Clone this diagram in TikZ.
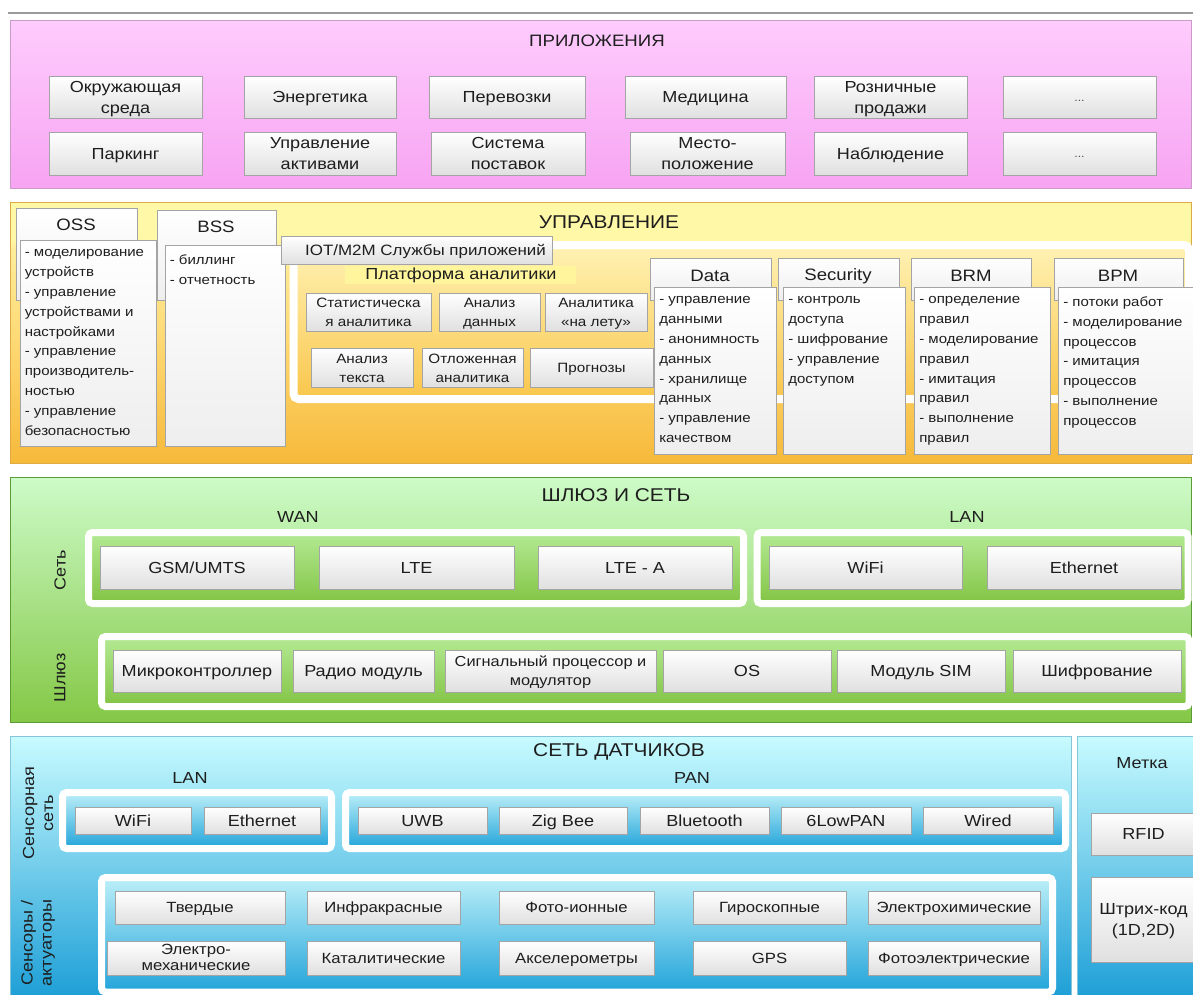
\documentclass[tikz,border=0pt]{standalone}
\usepackage{fontspec}
\setmainfont{Liberation Sans}[FakeStretch=1.13]
\usetikzlibrary{shadows}

\definecolor{txt}{HTML}{1E1E1E}
\definecolor{boxline}{HTML}{A4A4A4}
\definecolor{boxbot}{HTML}{E0E0E0}
\definecolor{listbot}{HTML}{EEEEEE}
\definecolor{topline}{HTML}{9A9A9A}
\definecolor{pinktop}{HTML}{FECCFD}
\definecolor{pinkbot}{HTML}{F7A4F2}
\definecolor{pinkline}{HTML}{C99BC6}
\definecolor{ylwtop}{HTML}{FFF8A6}
\definecolor{ylwband}{HTML}{FFEC9A}
\definecolor{ylwmid}{HTML}{FFDB78}
\definecolor{ylwbot}{HTML}{F6B93A}
\definecolor{ylwline}{HTML}{DDAA44}
\definecolor{anltop}{HTML}{FFF2B4}
\definecolor{anlbot}{HTML}{F9C64C}
\definecolor{hilite}{HTML}{FFF59C}
\definecolor{grntop}{HTML}{CDFBC8}
\definecolor{grnbot}{HTML}{84C846}
\definecolor{grnline}{HTML}{5C9C36}
\definecolor{grnintop}{HTML}{B4EA94}
\definecolor{grninbot}{HTML}{82C444}
\definecolor{bluetop}{HTML}{C8FBFF}
\definecolor{bluebot}{HTML}{1C9ED6}
\definecolor{blueline}{HTML}{86C4DA}
\definecolor{blueintop}{HTML}{BCEFF8}
\definecolor{blueinbot}{HTML}{22A4DA}

% management layer: pale band on top, warm gradient below
\pgfdeclareverticalshading{ylwsec}{100bp}{color(0bp)=(ylwbot); color(25bp)=(ylwbot);
  color(50bp)=(ylwmid); color(66bp)=(ylwband); color(68bp)=(ylwtop);
  color(75bp)=(ylwtop); color(100bp)=(ylwtop)}

% invisible rule that keeps caps and lower case optically centred in a box
\newcommand\cstrut{\rule[-0.28em]{0pt}{1.3em}}
% box from its corners: [options]{name}{x1}{y1}{x2}{y2}{text}
\newcommand\bx[7][]{\node[box,minimum width={(#5-#3)*1pt},minimum height={(#6-#4)*1pt},#1]
  (#2) at ({(#3+#5)/2},{(#4+#6)/2}) {\cstrut#7\cstrut};}
% white rounded frame with a gradient inside
\newcommand\frm[6]{\draw[white,line width=7pt,rounded corners=4pt,top color=#5,bottom color=#6]
  (#1,#2) rectangle (#3,#4);}

\begin{document}
\begin{tikzpicture}[x=1pt,y=-1pt,
  box/.style={draw=boxline,line width=0.8pt,top color=white,bottom color=boxbot,
    inner sep=0pt,align=center,text=txt,font=\fontsize{16}{21}\selectfont,
    drop shadow={opacity=0.2,shadow xshift=1pt,shadow yshift=-1.2pt}},
  abox/.style={font=\fontsize{13.5}{19}\selectfont},
  sbox/.style={font=\fontsize{14.8}{18}\selectfont},
  dots/.style={font=\fontsize{11}{13}\selectfont,text=black!70},
  tab/.style={top color=white,bottom color=listbot},
  listbox/.style={top color=white,bottom color=listbot},
  listtext/.style={anchor=north west,align=left,inner sep=0pt,text=txt,
    font=\fontsize{13.3}{19.8}\selectfont},
  sectitle/.style={text=txt,inner sep=0pt,font=\fontsize{18.5}{22}\selectfont},
  tabtitle/.style={text=txt,inner sep=0pt,font=\fontsize{16.5}{20}\selectfont},
  lbl/.style={text=txt,inner sep=0pt,font=\fontsize{16}{19}\selectfont},
  sidelbl/.style={text=txt,inner sep=0pt,rotate=90,align=center,font=\fontsize{16}{19}\selectfont}]

\useasboundingbox (0,0) rectangle (1193,994);
\clip (0,0) rectangle (1193,994);
\fill[white] (0,0) rectangle (1193,994);
\draw[topline,line width=1.2pt] (8,13) -- (1193,13);

% ---------------- applications ----------------
\draw[pinkline,line width=1pt,top color=pinktop,bottom color=pinkbot] (10,20) rectangle (1191,188);
\node[sectitle,font=\fontsize{16.5}{20}\selectfont] (tApp) at (597,41) {ПРИЛОЖЕНИЯ};
\bx{a1}{49}{76}{202}{118}{Окружающая\\среда}
\bx{a2}{244}{76}{396}{118}{Энергетика}
\bx{a3}{429}{76}{585}{118}{Перевозки}
\bx{a4}{625}{76}{786}{118}{Медицина}
\bx{a5}{814}{76}{967}{118}{Розничные\\продажи}
\bx[dots]{a6}{1003}{76}{1156}{118}{...}
\bx{b1}{49}{132}{202}{175}{Паркинг}
\bx{b2}{244}{132}{396}{175}{Управление\\активами}
\bx{b3}{431}{132}{585}{175}{Система\\поставок}
\bx{b4}{630}{132}{785}{175}{Место-\\положение}
\bx{b5}{814}{132}{967}{175}{Наблюдение}
\bx[dots]{b6}{1003}{132}{1156}{175}{...}

% ---------------- management ----------------
\draw[ylwline,line width=1pt,shading=ylwsec] (10,202) rectangle (1191,463);
\node[sectitle] (tMgmt) at (609,222) {УПРАВЛЕНИЕ};
\draw[white,line width=8pt,rounded corners=5pt,top color=anltop,bottom color=anlbot]
  (293.5,245) rectangle (1189,399);

\bx[tab]{ossT}{16}{208}{137}{300}{}
\node[tabtitle] at (76,225) {OSS};
\bx[listbox]{ossL}{20}{240}{156}{446}{}
\node[listtext] at ([shift={(5,10)}]ossL.north west) {- моделирование\\устройств\\- управление\\устройствами и\\настройками\\- управление\\производитель-\\ностью\\- управление\\безопасностью};

\bx[tab]{bssT}{157}{210}{276}{300}{}
\node[tabtitle] at (216,227) {BSS};
\bx[listbox]{bssL}{165}{245}{285}{446}{}
\node[listtext] at ([shift={(5,10)}]bssL.north west) {- биллинг\\- отчетность};

\bx[font=\fontsize{15}{19}\selectfont]{iot}{281}{236}{552}{264}{\hspace{18pt}IOT/M2M Службы приложений}
\fill[hilite] (345,266) rectangle (576,284);
\node[lbl] (plat) at (461,275) {Платформа аналитики};
\bx[abox]{s1}{306}{293}{431}{331}{Статистическа\\я аналитика}
\bx[abox]{s2}{439}{293}{540}{331}{Анализ\\данных}
\bx[abox]{s3}{545}{293}{647}{331}{Аналитика\\«на лету»}
\bx[abox]{s4}{311}{348}{413}{387}{Анализ\\текста}
\bx[abox]{s5}{422}{348}{523}{387}{Отложенная\\аналитика}
\bx[abox]{s6}{530}{348}{653}{387}{Прогнозы}

\bx[tab]{dataT}{650}{258}{771}{300}{}
\node[tabtitle] at (710,276) {Data};
\bx[listbox]{dataL}{654}{287}{776}{454}{}
\node[listtext] at ([shift={(5.5,10)}]dataL.north west) {- управление\\данными\\- анонимность\\данных\\- хранилище\\данных\\- управление\\качеством};

\bx[tab]{secT}{778}{258}{899}{300}{}
\node[tabtitle] at (838,276) {Security};
\bx[listbox]{secL}{783}{287}{905}{454}{}
\node[listtext] at ([shift={(5.5,10)}]secL.north west) {- контроль\\доступа\\- шифрование\\- управление\\доступом};

\bx[tab]{brmT}{911}{258}{1031}{300}{}
\node[tabtitle] at (971,276) {BRM};
\bx[listbox]{brmL}{914}{287}{1050}{454}{}
\node[listtext] at ([shift={(5.5,10)}]brmL.north west) {- определение\\правил\\- моделирование\\правил\\- имитация\\правил\\- выполнение\\правил};

\bx[tab]{bpmT}{1054}{258}{1183}{300}{}
\node[tabtitle] at (1118,276) {BPM};
\bx[listbox]{bpmL}{1058}{287}{1197}{454}{}
\node[listtext] at ([shift={(5.5,10)}]bpmL.north west) {- потоки работ\\- моделирование\\процессов\\- имитация\\процессов\\- выполнение\\процессов};

% ---------------- gateway and network ----------------
\draw[grnline,line width=1pt,top color=grntop,bottom color=grnbot] (10,477) rectangle (1191,722);
\node[sectitle] (tGw) at (616,495) {ШЛЮЗ И СЕТЬ};
\node[lbl] (wan) at (298,517) {WAN};
\node[lbl] (lan) at (967,517) {LAN};
\frm{88.5}{532.5}{743.5}{603.5}{grnintop}{grninbot}
\frm{757}{532.5}{1188}{603.5}{grnintop}{grninbot}
\frm{101.5}{636.5}{1189}{706.5}{grnintop}{grninbot}
\node[sidelbl] (net) at (60,570) {Сеть};
\node[sidelbl] (gw) at (60,678) {Шлюз};
\bx{n1}{100}{546}{294}{589}{GSM/UMTS}
\bx{n2}{319}{546}{514}{589}{LTE}
\bx{n3}{538}{546}{732}{589}{LTE - A}
\bx{n4}{769}{546}{962}{589}{WiFi}
\bx{n5}{987}{546}{1181}{589}{Ethernet}
\bx{g1}{113}{650}{281}{692}{Микроконтроллер}
\bx{g2}{293}{650}{434}{692}{Радио модуль}
\bx[font=\fontsize{14.5}{19}\selectfont]{g3}{445}{650}{656}{692}{Сигнальный процессор и\\модулятор}
\bx{g4}{663}{650}{831}{692}{OS}
\bx{g5}{837}{650}{1005}{692}{Модуль SIM}
\bx{g6}{1013}{650}{1181}{692}{Шифрование}

% ---------------- sensor network ----------------
\draw[blueline,line width=1pt,top color=bluetop,bottom color=bluebot] (10,736) rectangle (1071,1000);
\node[sectitle] (tSens) at (619,752) {СЕТЬ ДАТЧИКОВ};
\node[lbl] (slan) at (190,778) {LAN};
\node[lbl] (span) at (692,778) {PAN};
\frm{62.5}{792.5}{331.5}{848.5}{blueintop}{blueinbot}
\frm{345.5}{792.5}{1065.5}{848.5}{blueintop}{blueinbot}
\frm{101.5}{877.5}{1052.5}{992}{blueintop}{blueinbot}
\node[sidelbl] (snet) at (38,813) {Сенсорная\\сеть};
\node[sidelbl] (sact) at (38,943) {Сенсоры /\\актуаторы};
\bx{l1}{75}{807}{191}{834}{WiFi}
\bx{l2}{204}{807}{320}{834}{Ethernet}
\bx{p1}{358}{807}{487}{834}{UWB}
\bx{p2}{499}{807}{627}{834}{Zig Bee}
\bx{p3}{640}{807}{769}{834}{Bluetooth}
\bx{p4}{781}{807}{911}{834}{6LowPAN}
\bx{p5}{923}{807}{1053}{834}{Wired}
\bx[sbox]{d1}{115}{891}{285}{924}{Твердые}
\bx[sbox]{d2}{307}{891}{460}{924}{Инфракрасные}
\bx[sbox]{d3}{499}{891}{654}{924}{Фото-ионные}
\bx[sbox]{d4}{693}{891}{846}{924}{Гироскопные}
\bx[sbox]{d5}{868}{891}{1040}{924}{Электрохимические}
% two-line label set over its box so the box keeps its height
\bx[sbox]{e1}{107}{941}{285}{975}{}
\node[text=txt,inner sep=0pt,align=center,font=\fontsize{14.8}{16}\selectfont]
  (e1t) at ([shift={(0,-1)}]e1.center) {Электро-\\механические};
\bx[sbox]{e2}{307}{941}{460}{975}{Каталитические}
\bx[sbox]{e3}{499}{941}{654}{975}{Акселерометры}
\bx[sbox]{e4}{693}{941}{846}{975}{GPS}
\bx[sbox]{e5}{868}{941}{1040}{975}{Фотоэлектрические}

% ---------------- tags ----------------
\draw[blueline,line width=1pt,top color=bluetop,bottom color=bluebot] (1077,736) rectangle (1200,1000);
\node[lbl] (tTag) at (1142,763) {Метка};
\bx{rfid}{1091}{813}{1196}{855}{RFID}
\bx{bar}{1091}{877}{1196}{962}{Штрих-код\\(1D,2D)}
\end{tikzpicture}
\end{document}
